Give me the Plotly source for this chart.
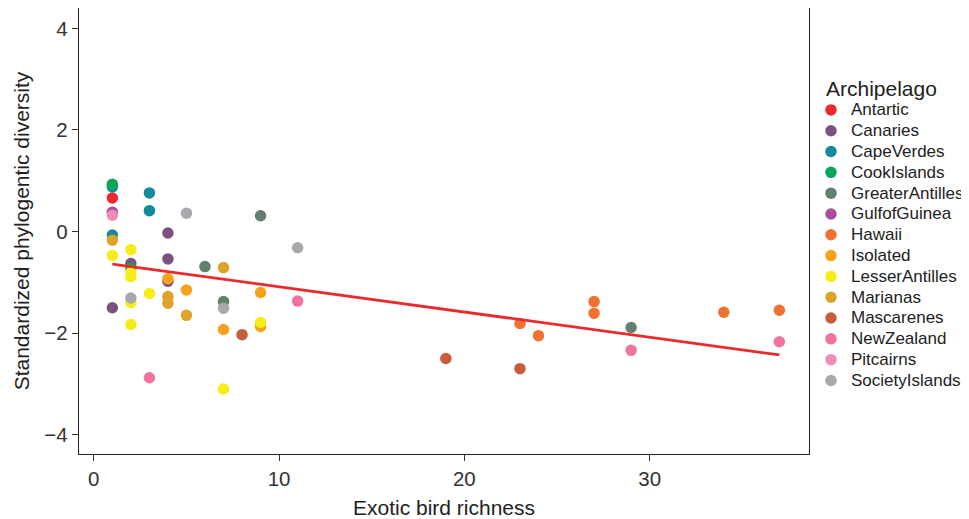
import plotly.graph_objects as go

archipelagos = ["Antartic", "Canaries", "CapeVerdes", "CookIslands", "GreaterAntilles",
                "GulfofGuinea", "Hawaii", "Isolated", "LesserAntilles", "Marianas",
                "Mascarenes", "NewZealand", "Pitcairns", "SocietyIslands"]

colors = ["#EC2A2E", "#7C5280", "#12899D", "#0CA65B", "#62806E",
          "#A94C9E", "#F07130", "#F7A11C", "#F8EC18", "#DDA32A",
          "#C85D3B", "#F1739F", "#EE8DBA", "#A8A9AC"]

richness = {
    "Antartic": [1],
    "Canaries": [1, 2, 4, 4, 4],
    "CapeVerdes": [1, 1, 3, 3],
    "CookIslands": [1, 2],
    "GreaterAntilles": [6, 7, 9, 29],
    "GulfofGuinea": [1],
    "Hawaii": [23, 24, 27, 27, 34, 37],
    "Isolated": [4, 5, 7, 9, 9],
    "LesserAntilles": [1, 2, 2, 2, 2, 2, 3, 7, 9],
    "Marianas": [1, 4, 4, 5, 7],
    "Mascarenes": [8, 19, 23],
    "NewZealand": [3, 11, 29, 37],
    "Pitcairns": [1],
    "SocietyIslands": [2, 5, 7, 11],
}

diversity = {
    "Antartic": [0.66],
    "Canaries": [-1.50, -0.63, -0.03, -0.54, -0.98],
    "CapeVerdes": [0.88, -0.07, 0.76, 0.41],
    "CookIslands": [0.93, -0.72],
    "GreaterAntilles": [-0.69, -1.38, 0.31, -1.89],
    "GulfofGuinea": [0.38],
    "Hawaii": [-1.81, -2.05, -1.38, -1.61, -1.59, -1.55],
    "Isolated": [-0.93, -1.15, -1.93, -1.20, -1.87],
    "LesserAntilles": [-0.47, -0.36, -0.81, -0.89, -1.40, -1.83, -1.22, -3.10, -1.79],
    "Marianas": [-0.17, -1.28, -1.41, -1.65, -0.71],
    "Mascarenes": [-2.03, -2.50, -2.70],
    "NewZealand": [-2.88, -1.37, -2.34, -2.17],
    "Pitcairns": [0.32],
    "SocietyIslands": [-1.31, 0.36, -1.51, -0.32],
}

fit_x = [1, 37]
fit_y = [-0.64, -2.43]

y_ticks = [-4, -2, 0, 2, 4]
x_ticks = [0, 10, 20, 30]

FONT = "Liberation Sans, Arial, sans-serif"

fig = go.Figure()
for name, col in zip(archipelagos, colors):
    fig.add_trace(go.Scatter(
        x=richness[name], y=diversity[name], mode="markers",
        name='<span style="font-size:17px">' + name + "</span>",
        marker=dict(color=col, size=11.5, line=dict(width=0)),
    ))

fig.add_trace(go.Scatter(
    x=fit_x, y=fit_y, mode="lines", showlegend=False,
    line=dict(color="#EC2A2E", width=2.8), hoverinfo="skip",
))

axis_common = dict(
    showline=True, linecolor="#222222", linewidth=1.4, mirror=True,
    showgrid=False, zeroline=False, ticks="outside", ticklen=6,
    tickcolor="#333333", tickwidth=1.2, automargin=False,
    tickfont=dict(family=FONT, size=20.5, color="#333333"),
)

fig.update_xaxes(range=[-0.8, 38.6], tickvals=x_ticks,
                 title=dict(text="Exotic bird richness", standoff=11,
                            font=dict(family=FONT, size=21, color="#222222")),
                 **axis_common)
fig.update_yaxes(range=[-4.38, 4.40], tickvals=y_ticks,
                 title=dict(text="Standardized phylogentic diversity", standoff=8,
                            font=dict(family=FONT, size=21, color="#222222")),
                 **axis_common)

fig.add_annotation(
    text="Archipelago", xref="paper", yref="paper", x=1.0204, y=0.8206,
    xanchor="left", yanchor="middle", showarrow=False,
    font=dict(family=FONT, size=21, color="#222222"),
)

fig.update_layout(
    width=961, height=511,
    margin=dict(l=71, r=156, t=0, b=65),
    paper_bgcolor="white", plot_bgcolor="white",
    font=dict(family=FONT, size=13.7, color="#222222"),
    legend=dict(
        x=1.003, y=0.806, xanchor="left", yanchor="top",
        font=dict(family=FONT, size=13.7, color="#222222"),
        tracegroupgap=0, itemwidth=30, bgcolor="rgba(0,0,0,0)",
    ),
)

fig.write_html("out.html")
